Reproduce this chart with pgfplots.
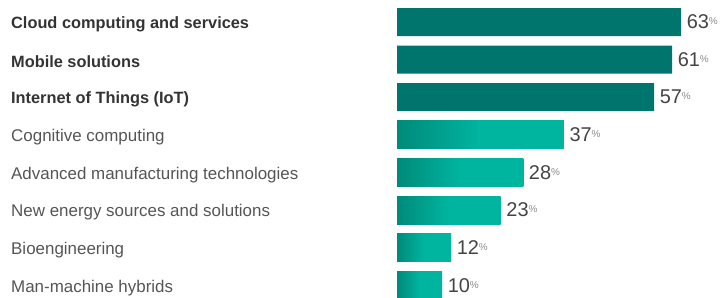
\documentclass[border=0pt]{standalone}
\usepackage{pgfplots}
\pgfplotsset{compat=1.18}
\usepackage{fontspec}
\setmainfont{Liberation Sans}
\definecolor{darkteal}{HTML}{00756D}
\definecolor{gradA}{HTML}{008A7A}
\definecolor{gradB}{HTML}{00B5A0}
\definecolor{labdark}{HTML}{333333}
\definecolor{labreg}{HTML}{555555}
\definecolor{numc}{HTML}{444444}
\definecolor{pctc}{HTML}{8A8A8A}
\begin{document}
\begin{tikzpicture}[x=1bp,y=1bp]
\useasboundingbox (0,0) rectangle (723,297);
\begin{axis}[
  at={(397bp,-7bp)}, anchor=south west,
  scale only axis, width=324.7bp, height=300.8bp,
  xmin=0, xmax=72, ymin=-0.5, ymax=7.5, y dir=reverse,
  xbar, bar width=28bp, bar shift=0pt,
  axis line style={draw=none},
  xtick=\empty,
  ytick={0,...,7},
  major tick length=0pt,
  /pgf/number format/assume math mode=true,
  yticklabels={
    {\fontsize{16.4}{16}\selectfont\bfseries\color{labdark}Cloud computing and services},
    {\fontsize{16.4}{16}\selectfont\bfseries\color{labdark}Mobile solutions},
    {\fontsize{16.4}{16}\selectfont\bfseries\color{labdark}Internet of Things (IoT)},
    {\color{labreg}Cognitive computing},
    {\color{labreg}Advanced manufacturing technologies},
    {\color{labreg}New energy sources and solutions},
    {\color{labreg}Bioengineering},
    {\color{labreg}Man-machine hybrids}},
  yticklabel style={anchor=west, inner sep=0pt, xshift=-386bp, yshift=-2.5bp, font=\fontsize{17}{17}\selectfont},
  point meta=x,
  nodes near coords={\pgfmathprintnumber{\pgfplotspointmeta}\raisebox{4bp}{\fontsize{10}{10}\selectfont\color{pctc}\%}},
  nodes near coords align={horizontal},
  every node near coord/.append style={anchor=west, inner sep=0pt, xshift=5.5bp, text=numc, font=\fontsize{20}{20}\selectfont},
  clip=false,
]
\addplot[fill=darkteal, draw=none, bar shift=0pt] coordinates {(63,0) (61,1) (57,2)};
\addplot[draw=none, bar shift=0pt, left color=gradA, right color=gradB, middle color=gradB] coordinates {(37,3)};
\addplot[draw=none, bar shift=0pt, left color=gradA, right color=gradB, middle color=gradB] coordinates {(28,4)};
\addplot[draw=none, bar shift=0pt, left color=gradA, right color=gradB, middle color=gradB] coordinates {(23,5)};
\addplot[draw=none, bar shift=0pt, left color=gradA, right color=gradB, middle color=gradB] coordinates {(12,6)};
\addplot[draw=none, bar shift=0pt, left color=gradA, right color=gradB, middle color=gradB] coordinates {(10,7)};
\end{axis}
\end{tikzpicture}
\end{document}
